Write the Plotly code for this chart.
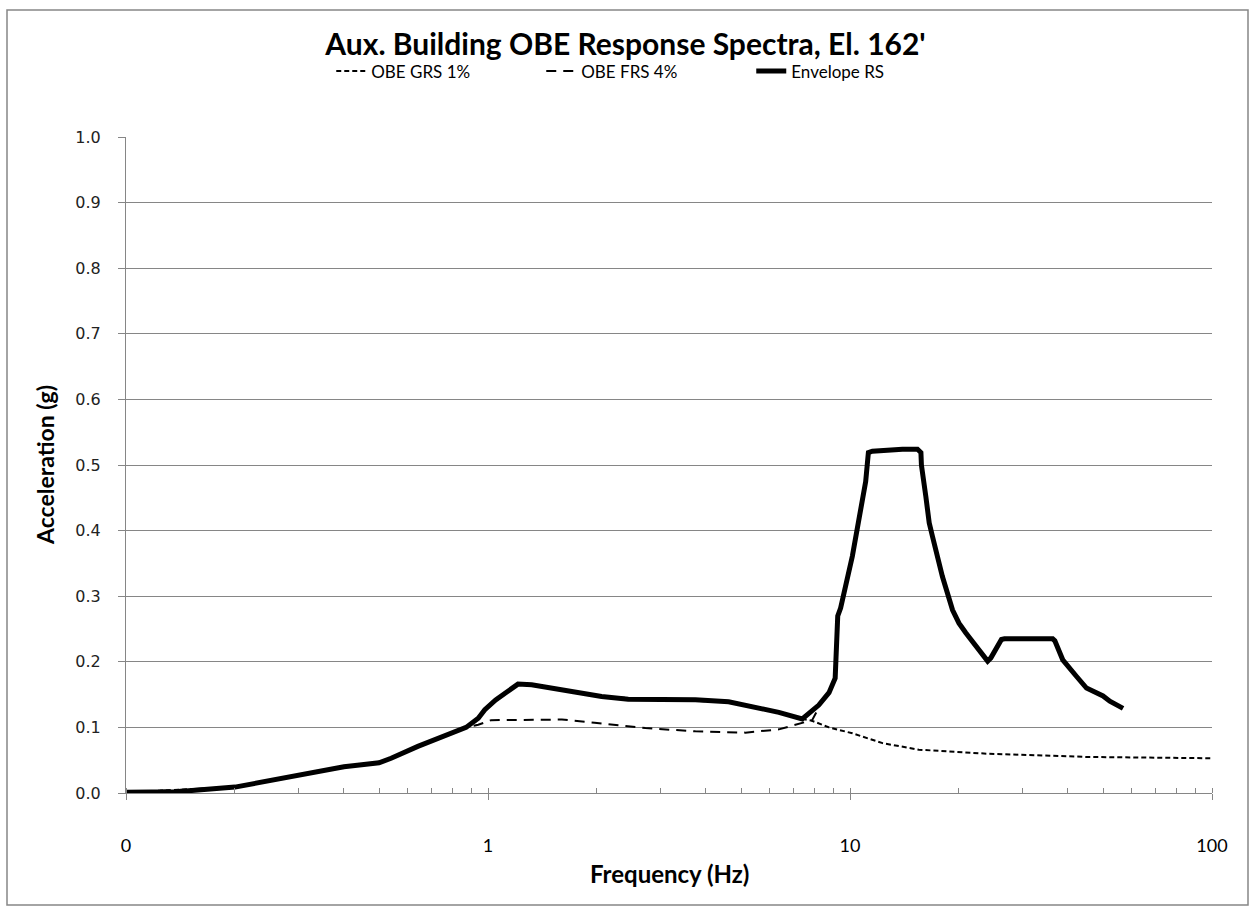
import plotly.graph_objects as go

# ---- data ----
env_f = [0.1, 0.138, 0.2, 0.3, 0.4, 0.5, 0.54, 0.64, 0.79, 0.87, 0.94, 0.98, 1.05, 1.21, 1.32,
         1.6, 2.06, 2.44, 3.0, 3.74, 4.62, 5.72, 6.36, 7.38, 8.2, 8.75, 8.93, 9.1, 9.25, 9.42,
         10.15, 10.59, 10.93, 11.05, 11.24, 11.53, 13.96, 15.36, 15.7, 15.75, 16.2, 16.55, 16.9,
         18.0, 19.2, 20.0, 20.9, 22.3, 24.0, 24.5, 26.2, 26.7, 36.3, 36.8, 38.7, 42.2, 45.0,
         50.0, 52.2, 56.8]
env_a = [0.001, 0.002, 0.009, 0.027, 0.040, 0.046, 0.053, 0.071, 0.092, 0.100, 0.114, 0.127, 0.142, 0.166, 0.165,
         0.158, 0.147, 0.143, 0.142, 0.142, 0.139, 0.129, 0.123, 0.113, 0.134, 0.153, 0.165, 0.175, 0.270, 0.282,
         0.361, 0.422, 0.458, 0.475, 0.519, 0.521, 0.524, 0.524, 0.519, 0.500, 0.452, 0.412, 0.391,
         0.330, 0.279, 0.259, 0.244, 0.223, 0.201, 0.206, 0.234, 0.235, 0.235, 0.232, 0.203, 0.178, 0.160,
         0.148, 0.140, 0.129]

grs_f = [0.1, 0.2, 0.3, 0.4, 0.5, 0.64, 0.79, 0.87, 0.94, 1.05, 1.21, 1.6, 2.06, 3.0, 4.62, 5.72,
         6.36, 7.38, 7.86, 8.75, 10.15, 12.3, 15.5, 23.8, 45.0, 100.0]
grs_a = [0.001, 0.009, 0.027, 0.040, 0.046, 0.071, 0.092, 0.100, 0.114, 0.142, 0.166, 0.158, 0.147, 0.142, 0.139, 0.129,
         0.123, 0.113, 0.110, 0.100, 0.091, 0.076, 0.066, 0.060, 0.055, 0.053]

frs_f = [0.1, 0.2, 0.3, 0.4, 0.5, 0.64, 0.79, 0.87, 0.94, 1.02, 1.29, 1.6, 1.97, 2.72, 3.74, 5.14,
         6.36, 7.07, 7.86, 8.2]
frs_a = [0.001, 0.009, 0.027, 0.040, 0.046, 0.071, 0.092, 0.100, 0.104, 0.111, 0.112, 0.112, 0.107, 0.099, 0.094, 0.092,
         0.097, 0.104, 0.111, 0.130]

x_tickvals = [0.1, 1, 10, 100]
x_ticktext = ["0", "1", "10", "100"]

GRAY = "#868686"

fig = go.Figure()
fig.add_trace(go.Scatter(x=grs_f, y=grs_a, mode="lines", name="OBE GRS 1%",
                         line=dict(color="black", width=2, dash="5px,3px")))
fig.add_trace(go.Scatter(x=frs_f, y=frs_a, mode="lines", name="OBE FRS 4%",
                         line=dict(color="black", width=2, dash="10px,7px")))
fig.add_trace(go.Scatter(x=env_f, y=env_a, mode="lines", name="Envelope RS",
                         line=dict(color="black", width=5)))

fig.update_layout(
    width=1251, height=909,
    margin=dict(l=126, r=39, t=137, b=116),
    paper_bgcolor="white", plot_bgcolor="white",
    title=dict(text="<b>Aux. Building OBE Response Spectra, El. 162'</b>",
               x=0.5, xanchor="center", y=1 - 44 / 909, yanchor="middle",
               font=dict(family="Lato", size=30, color="black")),
    showlegend=True,
    legend=dict(orientation="h", x=0.189, xanchor="left", y=1.10, yanchor="middle",
                font=dict(family="Lato", size=17, color="black"),
                entrywidth=165, entrywidthmode="pixels", bgcolor="rgba(0,0,0,0)",
                traceorder="normal"),
    xaxis=dict(type="log", range=[-1, 2], tickvals=x_tickvals, ticktext=x_ticktext,
               showgrid=False, zeroline=False, showline=True, linecolor=GRAY, linewidth=1,
               ticks="outside", ticklen=6, tickcolor=GRAY, ticklabelstandoff=30,
               tickfont=dict(family="Lato", size=18, color="black"),
               minor=dict(ticks="inside", ticklen=5, tickcolor=GRAY, dtick="D1", showgrid=False)),
    yaxis=dict(range=[0, 1.0], dtick=0.1, tickformat=".1f",
               showgrid=True, gridcolor=GRAY, gridwidth=1, zeroline=False,
               showline=True, linecolor=GRAY, linewidth=1,
               ticks="outside", ticklen=7, tickcolor=GRAY, ticklabelstandoff=14,
               tickfont=dict(family="DejaVu Sans", size=16, color="#222222")),
    annotations=[
        dict(text="<b>Frequency (Hz)</b>", xref="paper", yref="paper", x=0.5, y=(793 - 873) / 656,
             xanchor="center", yanchor="middle", showarrow=False,
             font=dict(family="Lato", size=24, color="black")),
        dict(text="<b>Acceleration (g)</b>", xref="paper", yref="paper", x=(45 - 126) / 1086, y=0.5,
             xanchor="center", yanchor="middle", showarrow=False, textangle=-90,
             font=dict(family="Lato", size=23, color="black")),
    ],
    shapes=[dict(type="rect", xref="paper", yref="paper",
                 x0=(7 - 126) / 1086, x1=(1248 - 126) / 1086,
                 y0=(793 - 905) / 656, y1=(793 - 10) / 656,
                 line=dict(color=GRAY, width=1.5), fillcolor="rgba(0,0,0,0)", layer="below")],
)

fig.write_html("out.html")
